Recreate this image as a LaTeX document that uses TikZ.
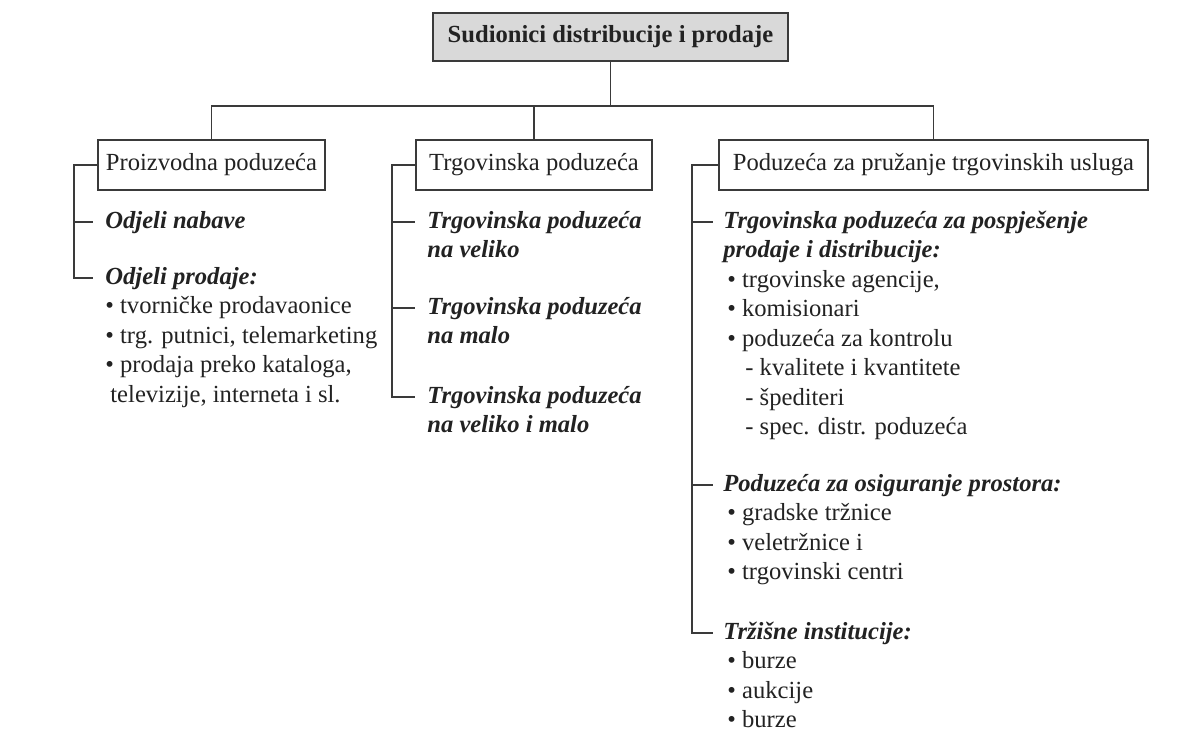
\documentclass[tikz,border=0pt]{standalone}
\usepackage{fontspec}
\setmainfont{Liberation Serif}
\definecolor{ink}{HTML}{222222}
\definecolor{rule}{HTML}{3A3A3A}
\newcommand{\hd}[1]{\textbf{\textit{#1}}}
\tikzset{
  box/.style={draw=rule, line width=0.9pt, minimum height=25pt, inner sep=0pt,
    text=ink, font=\fontsize{12.3}{14.75}\selectfont},
  entry/.style={anchor=north west, yshift=7.5pt, inner sep=0pt, align=left,
    text=ink, font=\fontsize{12.3}{14.75}\selectfont},
  link/.style={draw=rule, line width=0.9pt}
}
\begin{document}
\begin{tikzpicture}[x=0.5pt,y=-0.5pt]
\useasboundingbox (0,0) rectangle (1177,738);
\node[box, fill=black!15, minimum width=177.5pt, minimum height=24pt,
  font=\fontsize{12.3}{14.75}\selectfont\bfseries] (root) at (610.5,37)
  {Sudionici distribucije i prodaje};
\node[box, minimum width=113.5pt] (prz) at (211.5,165) {Proizvodna poduzeća};
\node[box, minimum width=118pt] (trg) at (534,165) {Trgovinska poduzeća};
\node[box, minimum width=214.5pt] (usl) at (933.5,165) {Poduzeća za pružanje trgovinskih usluga};
\coordinate (bus) at (613,106);
\draw[link] (root.south) -- (root.south |- bus);
\draw[link] (prz.north) |- (bus) -| (usl.north);
\draw[link] (trg.north) -- (trg.north |- bus);

\node[entry] (nab) at (105,222) {\strut\hd{Odjeli nabave}};
\node[entry] (prd) at (105,278) {\strut\hd{Odjeli prodaje:}\\
  • tvorničke prodavaonice\\
  • trg. putnici, telemarketing\\
  • prodaja preko kataloga,\\
  \hspace*{2.5pt}televizije, interneta i sl.};
\coordinate (nabt) at ([xshift=-6pt,yshift=-7.5pt]nab.north west);
\coordinate (prdt) at ([xshift=-6pt,yshift=-7.5pt]prd.north west);
\draw[link] (prz.west) -- ++(-23,0) coordinate (lb) |- (prdt);
\draw[link] (lb |- nabt) -- (nabt);

\node[entry] (vel) at (427,222) {\strut\hd{Trgovinska poduzeća}\\\hd{na veliko}};
\node[entry] (mal) at (427,308) {\strut\hd{Trgovinska poduzeća}\\\hd{na malo}};
\node[entry] (vm) at (427,397) {\strut\hd{Trgovinska poduzeća}\\\hd{na veliko i malo}};
\coordinate (velt) at ([xshift=-6pt,yshift=-7.5pt]vel.north west);
\coordinate (malt) at ([xshift=-6pt,yshift=-7.5pt]mal.north west);
\coordinate (vmt) at ([xshift=-6pt,yshift=-7.5pt]vm.north west);
\draw[link] (trg.west) -- ++(-23,0) coordinate (mb) |- (vmt);
\draw[link] (mb |- velt) -- (velt);
\draw[link] (mb |- malt) -- (malt);

\node[entry] (pos) at (723,222) {\strut\hd{Trgovinska poduzeća za pospješenje}\\
  \hd{prodaje i distribucije:}\\
  \hspace*{2pt}• trgovinske agencije,\\
  \hspace*{2pt}• komisionari\\
  \hspace*{2pt}• poduzeća za kontrolu\\
  \hspace*{11pt}- kvalitete i kvantitete\\
  \hspace*{11pt}- špediteri\\
  \hspace*{11pt}- spec. distr. poduzeća};
\node[entry] (pro) at (723,485) {\strut\hd{Poduzeća za osiguranje prostora:}\\
  \hspace*{2pt}• gradske tržnice\\
  \hspace*{2pt}• veletržnice i\\
  \hspace*{2pt}• trgovinski centri};
\node[entry] (ins) at (723,633) {\strut\hd{Tržišne institucije:}\\
  \hspace*{2pt}• burze\\
  \hspace*{2pt}• aukcije\\
  \hspace*{2pt}• burze};
\coordinate (post) at ([xshift=-5pt,yshift=-7.5pt]pos.north west);
\coordinate (prot) at ([xshift=-5pt,yshift=-7.5pt]pro.north west);
\coordinate (inst) at ([xshift=-5pt,yshift=-7.5pt]ins.north west);
\draw[link] (usl.west) -- ++(-26,0) coordinate (rb) |- (inst);
\draw[link] (rb |- post) -- (post);
\draw[link] (rb |- prot) -- (prot);
\end{tikzpicture}
\end{document}
